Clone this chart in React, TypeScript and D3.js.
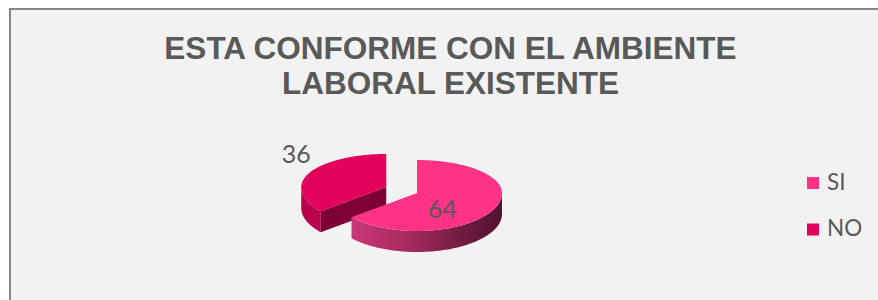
import React from "react";
import * as d3 from "d3";

const categories = ["SI", "NO"];
const values = [64, 36];
const titleLines = ["ESTA CONFORME CON EL AMBIENTE", "LABORAL EXISTENTE"];

const W = 878;
const H = 300;

const topColors = ["#FF3386", "#E2005B"];
const rimColors = ["url(#siRim)", "#B8004B"];
const cutColors = ["#6A1838", "#7C0033"];
const explode = [0, 0.4];

export default function App() {
  const cx = 417;
  const cy = 193;
  const rx = 85;
  const ryB = 33;
  const ryF = 38;
  const depth = 21;

  const pie = d3
    .pie<number>()
    .sort(null)
    .startAngle(0)
    .endAngle(2 * Math.PI)
    .value((d) => d);
  const arcs = pie(values);

  const pt = (ox: number, oy: number, a: number, dy = 0): [number, number] => {
    const c = Math.cos(a);
    const ry = c >= 0 ? ryB : ryF;
    return [ox + rx * Math.sin(a), oy - ry * c + dy];
  };

  const sample = (a0: number, a1: number) => {
    const n = Math.max(2, Math.ceil(Math.abs(a1 - a0) / (Math.PI / 180)));
    return d3.range(n + 1).map((i) => a0 + ((a1 - a0) * i) / n);
  };

  const line = d3.line();

  const slices = arcs.map((arc, i) => {
    const mid = (arc.startAngle + arc.endAngle) / 2;
    const ox = cx + Math.sin(mid) * rx * explode[i];
    const oy = cy - Math.cos(mid) * ((ryB + ryF) / 2) * explode[i];
    const a0 = arc.startAngle;
    const a1 = arc.endAngle;

    const top = line([
      [ox, oy],
      ...sample(a0, a1).map((a) => pt(ox, oy, a)),
    ])! + "Z";

    const r0 = Math.max(a0, Math.PI / 2);
    const r1 = Math.min(a1, (3 * Math.PI) / 2);
    let rim: string | null = null;
    if (r1 > r0) {
      const up = sample(r0, r1).map((a) => pt(ox, oy, a));
      const dn = sample(r0, r1)
        .reverse()
        .map((a) => pt(ox, oy, a, depth));
      rim = line([...up, ...dn])! + "Z";
    }

    const cuts: string[] = [];
    const edges: [number, number][] = [
      [a0, a0 - Math.PI / 2],
      [a1, a1 + Math.PI / 2],
    ];
    edges.forEach(([a, n]) => {
      if (Math.cos(n) < -0.01) {
        const p = pt(ox, oy, a);
        cuts.push(
          line([
            [ox, oy],
            p,
            [p[0], p[1] + depth],
            [ox, oy + depth],
          ])! + "Z"
        );
      }
    });
    return { i, top, rim, cuts, ox, oy, mid };
  });

  // label placement
  const labelPos = slices.map((s) => {
    if (s.i === 0) {
      return [s.ox + Math.sin(s.mid) * rx * 0.33, s.oy + 25];
    }
    return [s.ox + Math.sin(s.mid) * rx * 1.17, s.oy - 24];
  });

  const order = [1, 0];

  return (
    <svg
      width={W}
      height={H}
      style={{ position: "absolute", left: 0, top: 0 }}
    >
      <defs>
        <linearGradient
          id="siRim"
          gradientUnits="userSpaceOnUse"
          x1={cx - rx}
          x2={cx + rx}
          y1={0}
          y2={0}
        >
          <stop offset="0" stopColor="#D63D82" />
          <stop offset="0.45" stopColor="#A62A5F" />
          <stop offset="0.8" stopColor="#6C1A3D" />
          <stop offset="1" stopColor="#521230" />
        </linearGradient>
      </defs>
      <rect x={0} y={0} width={W} height={H} fill="#ffffff" />
      <rect
        x={10}
        y={9}
        width={W + 20}
        height={H + 20}
        fill="#F2F2F2"
        stroke="#868686"
        strokeWidth={2}
      />
      <g
        fontFamily="'Liberation Sans', Arial, sans-serif"
        fontWeight="bold"
        fontSize={31.5}
        fill="#595959"
        textAnchor="middle"
      >
        {titleLines.map((t, i) => (
          <text key={i} x={450.5} y={59 + i * 35}>
            {t}
          </text>
        ))}
      </g>
      {order.map((k) => {
        const s = slices[k];
        return (
          <g key={k}>
            {s.rim && <path d={s.rim} fill={rimColors[k]} />}
            {s.cuts.map((c, j) => (
              <path key={j} d={c} fill={cutColors[k]} />
            ))}
            <path d={s.top} fill={topColors[k]} />
          </g>
        );
      })}
      <g fontFamily="Lato, 'Open Sans', sans-serif" fontSize={25} fill="#595959" textAnchor="middle">
        {values.map((v, i) => (
          <text key={i} x={labelPos[i][0]} y={labelPos[i][1]}>
            {v}
          </text>
        ))}
      </g>
      <g fontFamily="Lato, 'Open Sans', sans-serif" fontSize={22.5} fill="#595959">
        {categories.map((c, i) => (
          <g key={c} transform={`translate(807, ${177 + i * 46.5})`}>
            <rect x={0} y={0} width={12} height={12} fill={topColors[i]} />
            <text x={20} y={12.5}>
              {c}
            </text>
          </g>
        ))}
      </g>
    </svg>
  );
}
